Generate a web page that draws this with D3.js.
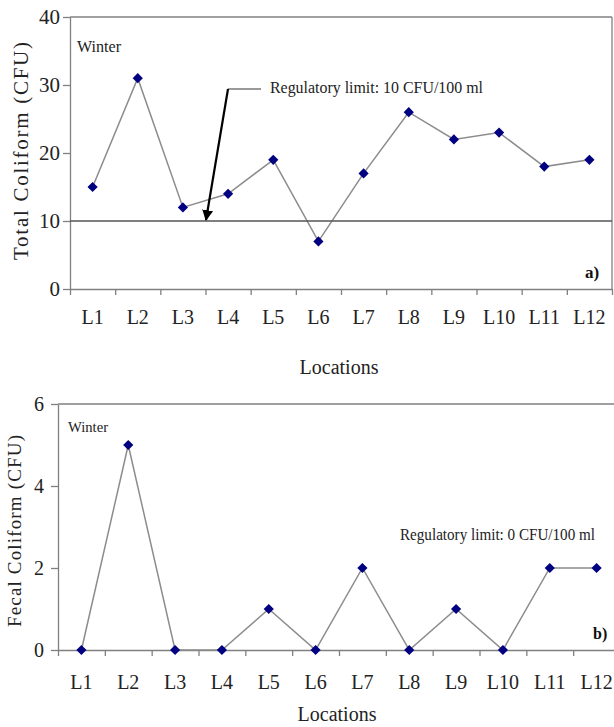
<!DOCTYPE html>
<html>
<head>
<meta charset="utf-8">
<script src="https://cdn.jsdelivr.net/npm/d3@7"></script>
<style>
  body { margin: 0; background: #fff; }
  svg text { font-family: "Liberation Serif", "Times New Roman", serif; }
</style>
</head>
<body>
<div id="chart"></div>
<script>
// values
var locations = ['L1', 'L2', 'L3', 'L4', 'L5', 'L6', 'L7', 'L8', 'L9', 'L10', 'L11', 'L12'];
var totalColiform = [15, 31, 12, 14, 19, 7, 17, 26, 22, 23, 18, 19];
var fecalColiform = [0, 5, 0, 0, 1, 0, 2, 0, 1, 0, 2, 2];
var totalTicks = [0, 10, 20, 30, 40];
var fecalTicks = [0, 2, 4, 6];
var totalLimit = 10;

var width = 614, height = 727;
var axisGray = '#808080';
var serif = 'Liberation Serif';

var svg = d3.select('#chart').append('svg')
    .attr('width', width)
    .attr('height', height);

svg.append('defs').append('marker')
    .attr('id', 'head')
    .attr('viewBox', '0 0 10 10')
    .attr('refX', 9).attr('refY', 5)
    .attr('markerWidth', 5).attr('markerHeight', 6)
    .attr('markerUnits', 'strokeWidth')
    .attr('orient', 'auto')
    .append('path')
    .attr('d', 'M0,0 L10,5 L0,10 Z')
    .attr('fill', '#000');

// square turned 45 degrees = the Excel style diamond
var diamond = d3.symbol().type(d3.symbolSquare).size(52);

function label(x, y, size, txt) {
    return svg.append('text')
        .attr('x', x).attr('y', y)
        .attr('font-family', serif)
        .attr('font-size', size)
        .attr('fill', '#222')
        .text(txt);
}

// draws one panel; returns scales so annotations can be placed
function panel(opt) {
    var g = svg.append('g');
    var x = d3.scaleBand().domain(locations).range([opt.left, opt.right]);
    var xi = d3.scaleLinear().domain([0, locations.length]).range([opt.left, opt.right]);
    var y = d3.scaleLinear().domain(opt.domain).range([opt.bottom, opt.top]);

    // frame top + right
    g.append('line')
        .attr('x1', opt.left).attr('x2', opt.right)
        .attr('y1', opt.top).attr('y2', opt.top)
        .attr('stroke', axisGray).attr('stroke-width', 1.3);
    g.append('line')
        .attr('x1', opt.right).attr('x2', opt.right)
        .attr('y1', opt.top).attr('y2', opt.bottom)
        .attr('stroke', axisGray).attr('stroke-width', 1.3);

    // x tick marks at band edges
    var xt = g.append('g')
        .attr('transform', 'translate(0,' + opt.bottom + ')')
        .call(d3.axisBottom(xi).tickValues(d3.range(locations.length + 1))
            .tickFormat('').tickSizeInner(6).tickSizeOuter(0));
    xt.selectAll('path, line').attr('stroke', axisGray).attr('stroke-width', 1.3);

    // x labels at band centres
    var xl = g.append('g')
        .attr('transform', 'translate(0,' + opt.bottom + ')')
        .call(d3.axisBottom(x).tickSize(0).tickPadding(opt.xPad));
    xl.select('.domain').remove();
    xl.selectAll('text')
        .attr('font-family', serif)
        .attr('font-size', opt.xFont)
        .attr('fill', '#222');

    var yl = g.append('g')
        .attr('transform', 'translate(' + opt.left + ',0)')
        .call(d3.axisLeft(y).tickValues(opt.ticks).tickFormat(d3.format('d'))
            .tickSizeInner(7).tickSizeOuter(0).tickPadding(opt.yPad));
    yl.selectAll('path, line').attr('stroke', axisGray).attr('stroke-width', 1.3);
    yl.selectAll('text')
        .attr('font-family', serif)
        .attr('font-size', opt.yFont)
        .attr('fill', '#222');

    // titles
    svg.append('text')
        .attr('transform', 'translate(' + opt.titleX + ',' + opt.titleY + ') rotate(-90)')
        .attr('text-anchor', 'middle')
        .attr('font-family', serif)
        .attr('font-size', opt.titleFont)
        .attr('fill', '#222')
        .attr('textLength', opt.titleLen)
        .attr('lengthAdjust', 'spacing')
        .text(opt.title);

    label((opt.left + opt.right) / 2 - 2, opt.locY, 20, 'Locations')
        .attr('text-anchor', 'middle');

    // data line + markers
    var cx = function(i) { return x(locations[i]) + x.bandwidth() / 2; };
    var line = d3.line()
        .x(function(d, i) { return cx(i); })
        .y(function(d) { return y(d); });

    g.append('path')
        .datum(opt.values)
        .attr('d', line)
        .attr('fill', 'none')
        .attr('stroke', '#8c8c8c')
        .attr('stroke-width', 1.5);

    g.selectAll('.pt')
        .data(opt.values)
        .enter()
        .append('path')
        .attr('class', 'pt')
        .attr('d', diamond)
        .attr('transform', function(d, i) {
            return 'translate(' + cx(i) + ',' + y(d) + ') rotate(45)';
        })
        .attr('fill', '#000080');

    return { x: x, y: y, g: g };
}

// a) total coliform
var a = panel({
    left: 70, right: 612, top: 17, bottom: 289,
    domain: [0, 40], ticks: totalTicks, values: totalColiform,
    xFont: 20, xPad: 21, yFont: 21, yPad: 3,
    title: 'Total Coliform (CFU)', titleX: 28, titleY: 151, titleFont: 21, titleLen: 218,
    locY: 374
});

a.g.insert('line', '.pt')
    .attr('x1', 70).attr('x2', 612)
    .attr('y1', a.y(totalLimit)).attr('y2', a.y(totalLimit))
    .attr('stroke', '#555').attr('stroke-width', 1.3);

label(77, 52, 16, 'Winter')
    .attr('textLength', 44).attr('lengthAdjust', 'spacingAndGlyphs');

svg.append('line')
    .attr('x1', 261).attr('y1', 89).attr('x2', 228).attr('y2', 89)
    .attr('stroke', '#777').attr('stroke-width', 1.5);
svg.append('line')
    .attr('x1', 228).attr('y1', 89).attr('x2', 206).attr('y2', a.y(totalLimit) - 1)
    .attr('stroke', '#000').attr('stroke-width', 2.2)
    .attr('marker-end', 'url(#head)');

label(270, 93, 17, 'Regulatory limit: 10 CFU/100 ml')
    .attr('textLength', 213).attr('lengthAdjust', 'spacingAndGlyphs');

label(585, 278, 17, 'a)').attr('font-weight', 'bold').attr('fill', '#111');

// b) fecal coliform
var b = panel({
    left: 58, right: 620, top: 404, bottom: 650,
    domain: [0, 6], ticks: fecalTicks, values: fecalColiform,
    xFont: 20, xPad: 25, yFont: 20, yPad: 7,
    title: 'Fecal Coliform (CFU)', titleX: 21, titleY: 531, titleFont: 19, titleLen: 192,
    locY: 721
});

label(68, 432, 15, 'Winter')
    .attr('textLength', 40).attr('lengthAdjust', 'spacingAndGlyphs');

label(400, 540, 16, 'Regulatory limit: 0 CFU/100 ml')
    .attr('textLength', 195).attr('lengthAdjust', 'spacingAndGlyphs');

label(593, 639, 16, 'b)').attr('font-weight', 'bold').attr('fill', '#111');
</script>
</body>
</html>
